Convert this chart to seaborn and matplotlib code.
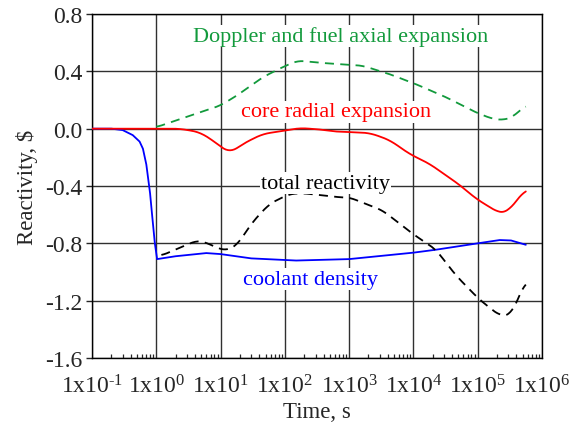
import numpy as np
import pandas as pd
import matplotlib
matplotlib.use("Agg")
import matplotlib.pyplot as plt
import matplotlib.ticker as mticker
import seaborn as sns

# Reactivity components (in $) versus time (s)
coolant_t = [0.1, 0.2, 0.3, 0.43, 0.55, 0.62, 0.7, 0.8, 0.86, 0.95, 1.03,
             2.0, 6.0, 10.0, 30.0, 150.0, 1.0e3, 1.0e4, 2.2e4, 1.0e5,
             2.2e5, 3.3e5, 5.6e5]
coolant_rho = [0.0, 0.0, -0.01, -0.045, -0.09, -0.14, -0.25, -0.45, -0.6,
               -0.8, -0.91, -0.89, -0.868, -0.875, -0.905, -0.92, -0.91,
               -0.865, -0.845, -0.80, -0.777, -0.78, -0.81]

radial_t = [0.1, 1.0, 2.3, 4.8, 8.0, 13.8, 22.0, 45.0, 93.0, 170.0, 390.0,
            500.0, 2.1e3, 4.3e3, 8.7e3, 1.8e4, 3.8e4, 4.6e4, 9.5e4, 2.2e5,
            2.9e5, 3.9e5, 5.6e5]
radial_rho = [0.0, 0.0, 0.0, -0.025, -0.09, -0.172, -0.107, -0.037, -0.016,
              0.005, -0.007, -0.018, -0.03, -0.08, -0.177, -0.246, -0.35,
              -0.372, -0.49, -0.59, -0.583, -0.51, -0.42]

doppler_t = [1.0, 3.3, 9.8, 17.8, 45.7, 93.0, 158.0, 390.0, 708.0, 1.6e3,
             4.3e3, 1.1e4, 3.2e4, 9.3e4, 1.7e5, 2.5e5, 3.5e5, 5.6e5]
doppler_rho = [0.01, 0.09, 0.16, 0.23, 0.36, 0.43, 0.475, 0.458, 0.45, 0.44,
               0.38, 0.31, 0.22, 0.114, 0.068, 0.06, 0.08, 0.165]

total_t = [1.2, 2.07, 4.3, 5.6, 9.8, 12.3, 17.8, 31.6, 57.5, 117.0, 190.0,
           708.0, 1.0e3, 3.3e3, 9.8e3, 2.2e4, 4.6e4, 1.05e5, 2.2e5, 3.3e5,
           5.6e5]
total_rho = [-0.886, -0.84, -0.78, -0.79, -0.84, -0.85, -0.816, -0.65,
             -0.525, -0.456, -0.45, -0.479, -0.479, -0.57, -0.735, -0.84,
             -1.025, -1.19, -1.305, -1.30, -1.06]

y_ticks = [0.8, 0.4, 0.0, -0.4, -0.8, -1.2, -1.6]
x_decades = [-1, 0, 1, 2, 3, 4, 5, 6]

sns.set_theme(style="white")
plt.rcParams["font.family"] = ["Liberation Serif", "DejaVu Serif"]
plt.rcParams["mathtext.fontset"] = "custom"
plt.rcParams["mathtext.rm"] = "Liberation Serif"
plt.rcParams["mathtext.it"] = "Liberation Serif:italic"

fig = plt.figure(figsize=(5.78, 4.27), dpi=100)
ax = fig.add_axes([92 / 578, 1 - 359 / 427, 450 / 578, 344 / 427])

def smooth(t, v, n=400):
    lt = np.log10(np.asarray(t, float))
    grid = np.linspace(lt[0], lt[-1], n)
    vals = np.interp(grid, lt, v)
    k = 7
    pad = np.pad(vals, k, mode="edge")
    ker = np.ones(2 * k + 1) / (2 * k + 1)
    sm = np.convolve(pad, ker, mode="valid")
    return 10 ** grid, sm

GREEN = "#129a3c"
series = [
    (coolant_t, coolant_rho, "#0000ff", None, False),
    (radial_t, radial_rho, "#ff0000", None, True),
    (doppler_t, doppler_rho, GREEN, (0, (5, 3.5)), True),
    (total_t, total_rho, "#000000", (0, (5, 3.5)), True),
]
for t, v, c, dash, sm in series:
    if sm:
        tt, vv = smooth(t, v)
    else:
        tt, vv = np.asarray(t, float), np.asarray(v, float)
    df = pd.DataFrame({"t": tt, "rho": vv})
    sns.lineplot(data=df, x="t", y="rho", ax=ax, color=c, lw=1.3,
                 sort=False, estimator=None, zorder=3)
    if dash is not None:
        ax.lines[-1].set_linestyle(dash)

ax.set_xscale("log")
ax.set_xlim(10.0 ** x_decades[0], 10.0 ** x_decades[-1])
ax.set_ylim(min(y_ticks), max(y_ticks))

ax.set_xticks([10.0 ** d for d in x_decades])
ax.set_xticklabels(["1x10$^{%s}$" % str(d).replace("-", "\u2010")
                    for d in x_decades])
ax.xaxis.set_minor_locator(mticker.LogLocator(base=10, subs=np.arange(2, 10)))
ax.xaxis.set_minor_formatter(mticker.NullFormatter())
ax.set_yticks(y_ticks)
ax.set_yticklabels(["%.1f" % v for v in y_ticks])

ax.grid(True, which="major", color="#303030", lw=1.0)
ax.tick_params(axis="x", which="major", direction="in", length=5,
               labelsize=17, pad=12, width=1)
ax.tick_params(axis="x", which="minor", direction="in", length=3,
               width=0.9, bottom=True)
ax.tick_params(axis="y", which="major", direction="out", length=4,
               labelsize=17, width=1, left=True, pad=3)
for s in ax.spines.values():
    s.set_color("black")
    s.set_linewidth(1.0)

ax.set_xlabel("Time, s", fontsize=16.5, labelpad=2)
ax.set_ylabel("Reactivity, $", fontsize=16.5, labelpad=5)

box = dict(facecolor="white", edgecolor="none", pad=1.0)
ax.text(7.4e2, 0.647, "Doppler and fuel axial expansion", color=GREEN,
        fontsize=16, ha="center", va="center", bbox=box, zorder=4)
ax.text(6.3e2, 0.117, "core radial expansion", color="#ff0000",
        fontsize=16, ha="center", va="center", bbox=box, zorder=4)
ax.text(4.3e2, -0.38, "total reactivity", color="black",
        fontsize=16, ha="center", va="center", bbox=box, zorder=4)
ax.text(2.5e2, -1.05, "coolant density", color="#0000ff",
        fontsize=16, ha="center", va="center", bbox=box, zorder=4)

fig.savefig("out.png", dpi=100)
